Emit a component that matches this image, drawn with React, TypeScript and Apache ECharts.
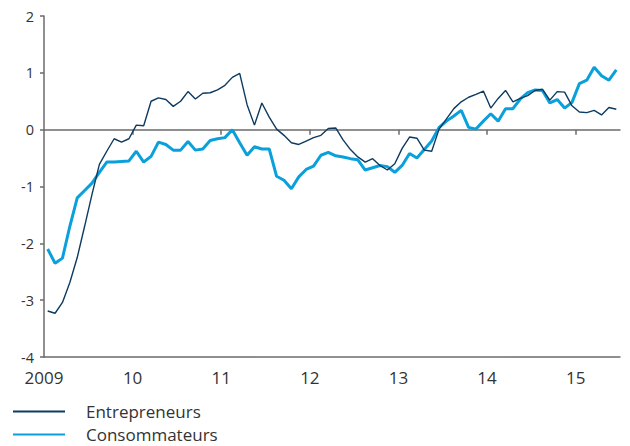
import React, { useEffect, useRef } from "react";
import * as echarts from "echarts";

const startYear = 2009;
const yearTicks = [2009, 2010, 2011, 2012, 2013, 2014, 2015];
const seriesNames = ["Entrepreneurs", "Consommateurs"];

const entrepreneurs = [
  -3.19, -3.23, -3.04, -2.69, -2.25, -1.7, -1.14, -0.61, -0.38, -0.16, -0.22, -0.16,
  0.08, 0.07, 0.5, 0.56, 0.53, 0.41, 0.5, 0.67, 0.54, 0.64, 0.65, 0.7,
  0.78, 0.92, 0.99, 0.44, 0.08, 0.47, 0.22, 0.01, -0.1, -0.23, -0.26, -0.2,
  -0.14, -0.1, 0.02, 0.03, -0.18, -0.35, -0.48, -0.57, -0.51, -0.63, -0.71, -0.6,
  -0.33, -0.13, -0.15, -0.36, -0.38, 0.01, 0.19, 0.37, 0.49, 0.57, 0.62, 0.68,
  0.38, 0.55, 0.69, 0.49, 0.55, 0.6, 0.69, 0.71, 0.52, 0.67, 0.66, 0.42,
  0.31, 0.3, 0.34, 0.26, 0.39, 0.36,
];

const consommateurs = [
  -2.1, -2.35, -2.26, -1.7, -1.2, -1.07, -0.94, -0.75, -0.57, -0.57, -0.56, -0.55,
  -0.38, -0.57, -0.47, -0.22, -0.26, -0.36, -0.36, -0.21, -0.36, -0.34, -0.19, -0.16,
  -0.14, 0.0, -0.23, -0.45, -0.3, -0.34, -0.34, -0.82, -0.89, -1.04, -0.83, -0.7,
  -0.64, -0.45, -0.4, -0.46, -0.48, -0.51, -0.53, -0.71, -0.67, -0.63, -0.65, -0.75,
  -0.63, -0.42, -0.5, -0.35, -0.2, 0.04, 0.15, 0.24, 0.34, 0.04, 0.01, 0.15,
  0.28, 0.15, 0.37, 0.37, 0.54, 0.65, 0.7, 0.69, 0.47, 0.53, 0.38, 0.48,
  0.81, 0.87, 1.1, 0.95, 0.87, 1.05,
];

// month index -> fractional year (mid-month)
const toPairs = (vals: number[]) =>
  vals.map((v, i) => [startYear + (i + 0.5) / 12, v]);

const FONT = "'Open Sans', 'Noto Sans', sans-serif";
const TEXT = "#333333";
const AXIS = "#6b6b6b";

export default function App() {
  const ref = useRef<HTMLDivElement>(null);

  useEffect(() => {
    if (!ref.current) return;
    const chart = echarts.init(ref.current, undefined, { renderer: "svg" });
    const n = entrepreneurs.length;
    const xMax = startYear + n / 12;
    chart.setOption({
      animation: false,
      textStyle: { fontFamily: FONT },
      grid: { left: 44, right: 10, top: 16, bottom: 89 },
      legend: {
        orient: "vertical",
        left: 12,
        top: 403,
        padding: 0,
        itemWidth: 52,
        itemHeight: 14,
        itemGap: 6,
        data: seriesNames,
        itemStyle: { opacity: 0, borderWidth: 0 },
        textStyle: {
          fontFamily: FONT,
          fontSize: 17,
          lineHeight: 16,
          color: TEXT,
          padding: [0, 0, 0, 16],
        },
      },
      xAxis: [
        {
          type: "value",
          min: startYear,
          max: xMax,
          position: "bottom",
          axisLine: { show: true, onZero: false, lineStyle: { color: AXIS, width: 1.5 } },
          axisTick: { show: false },
          splitLine: { show: false },
          axisLabel: {
            customValues: yearTicks,
            color: TEXT,
            fontSize: 17,
            lineHeight: 17,
            fontFamily: FONT,
            margin: 12,
            formatter: (v: number) =>
              v === startYear ? String(v) : String(v % 100).padStart(2, "0"),
          },
        },
        {
          type: "value",
          min: startYear,
          max: xMax,
          position: "top",
          axisLine: { show: true, onZero: true, lineStyle: { color: AXIS, width: 1.5 } },
          axisTick: {
            show: true,
            inside: true,
            length: 5,
            customValues: yearTicks.slice(1),
            lineStyle: { color: AXIS, width: 1.5 },
          },
          axisLabel: { show: false },
          splitLine: { show: false },
        },
      ],
      yAxis: {
        type: "value",
        min: -4,
        max: 2,
        interval: 1,
        axisLine: { show: true, lineStyle: { color: AXIS, width: 1.5 } },
        axisTick: { show: true, length: 4, lineStyle: { color: AXIS, width: 1.5 } },
        splitLine: { show: false },
        axisLabel: { color: TEXT, fontSize: 14.5, lineHeight: 12, fontFamily: FONT, margin: 10 },
      },
      series: [
        {
          name: seriesNames[0],
          type: "line",
          xAxisIndex: 0,
          data: toPairs(entrepreneurs),
          symbol: "none",
          lineStyle: { color: "#0d3a60", width: 1.4 },
          itemStyle: { color: "#0d3a60" },
          z: 3,
        },
        {
          name: seriesNames[1],
          type: "line",
          xAxisIndex: 0,
          data: toPairs(consommateurs),
          symbol: "none",
          lineStyle: { color: "#0aa0dc", width: 3 },
          itemStyle: { color: "#0aa0dc" },
          z: 2,
        },
      ],
    });
    return () => chart.dispose();
  }, []);

  return (
    <div
      ref={ref}
      style={{ position: "fixed", left: 0, top: 0, width: 630, height: 446, background: "#fff" }}
    />
  );
}
